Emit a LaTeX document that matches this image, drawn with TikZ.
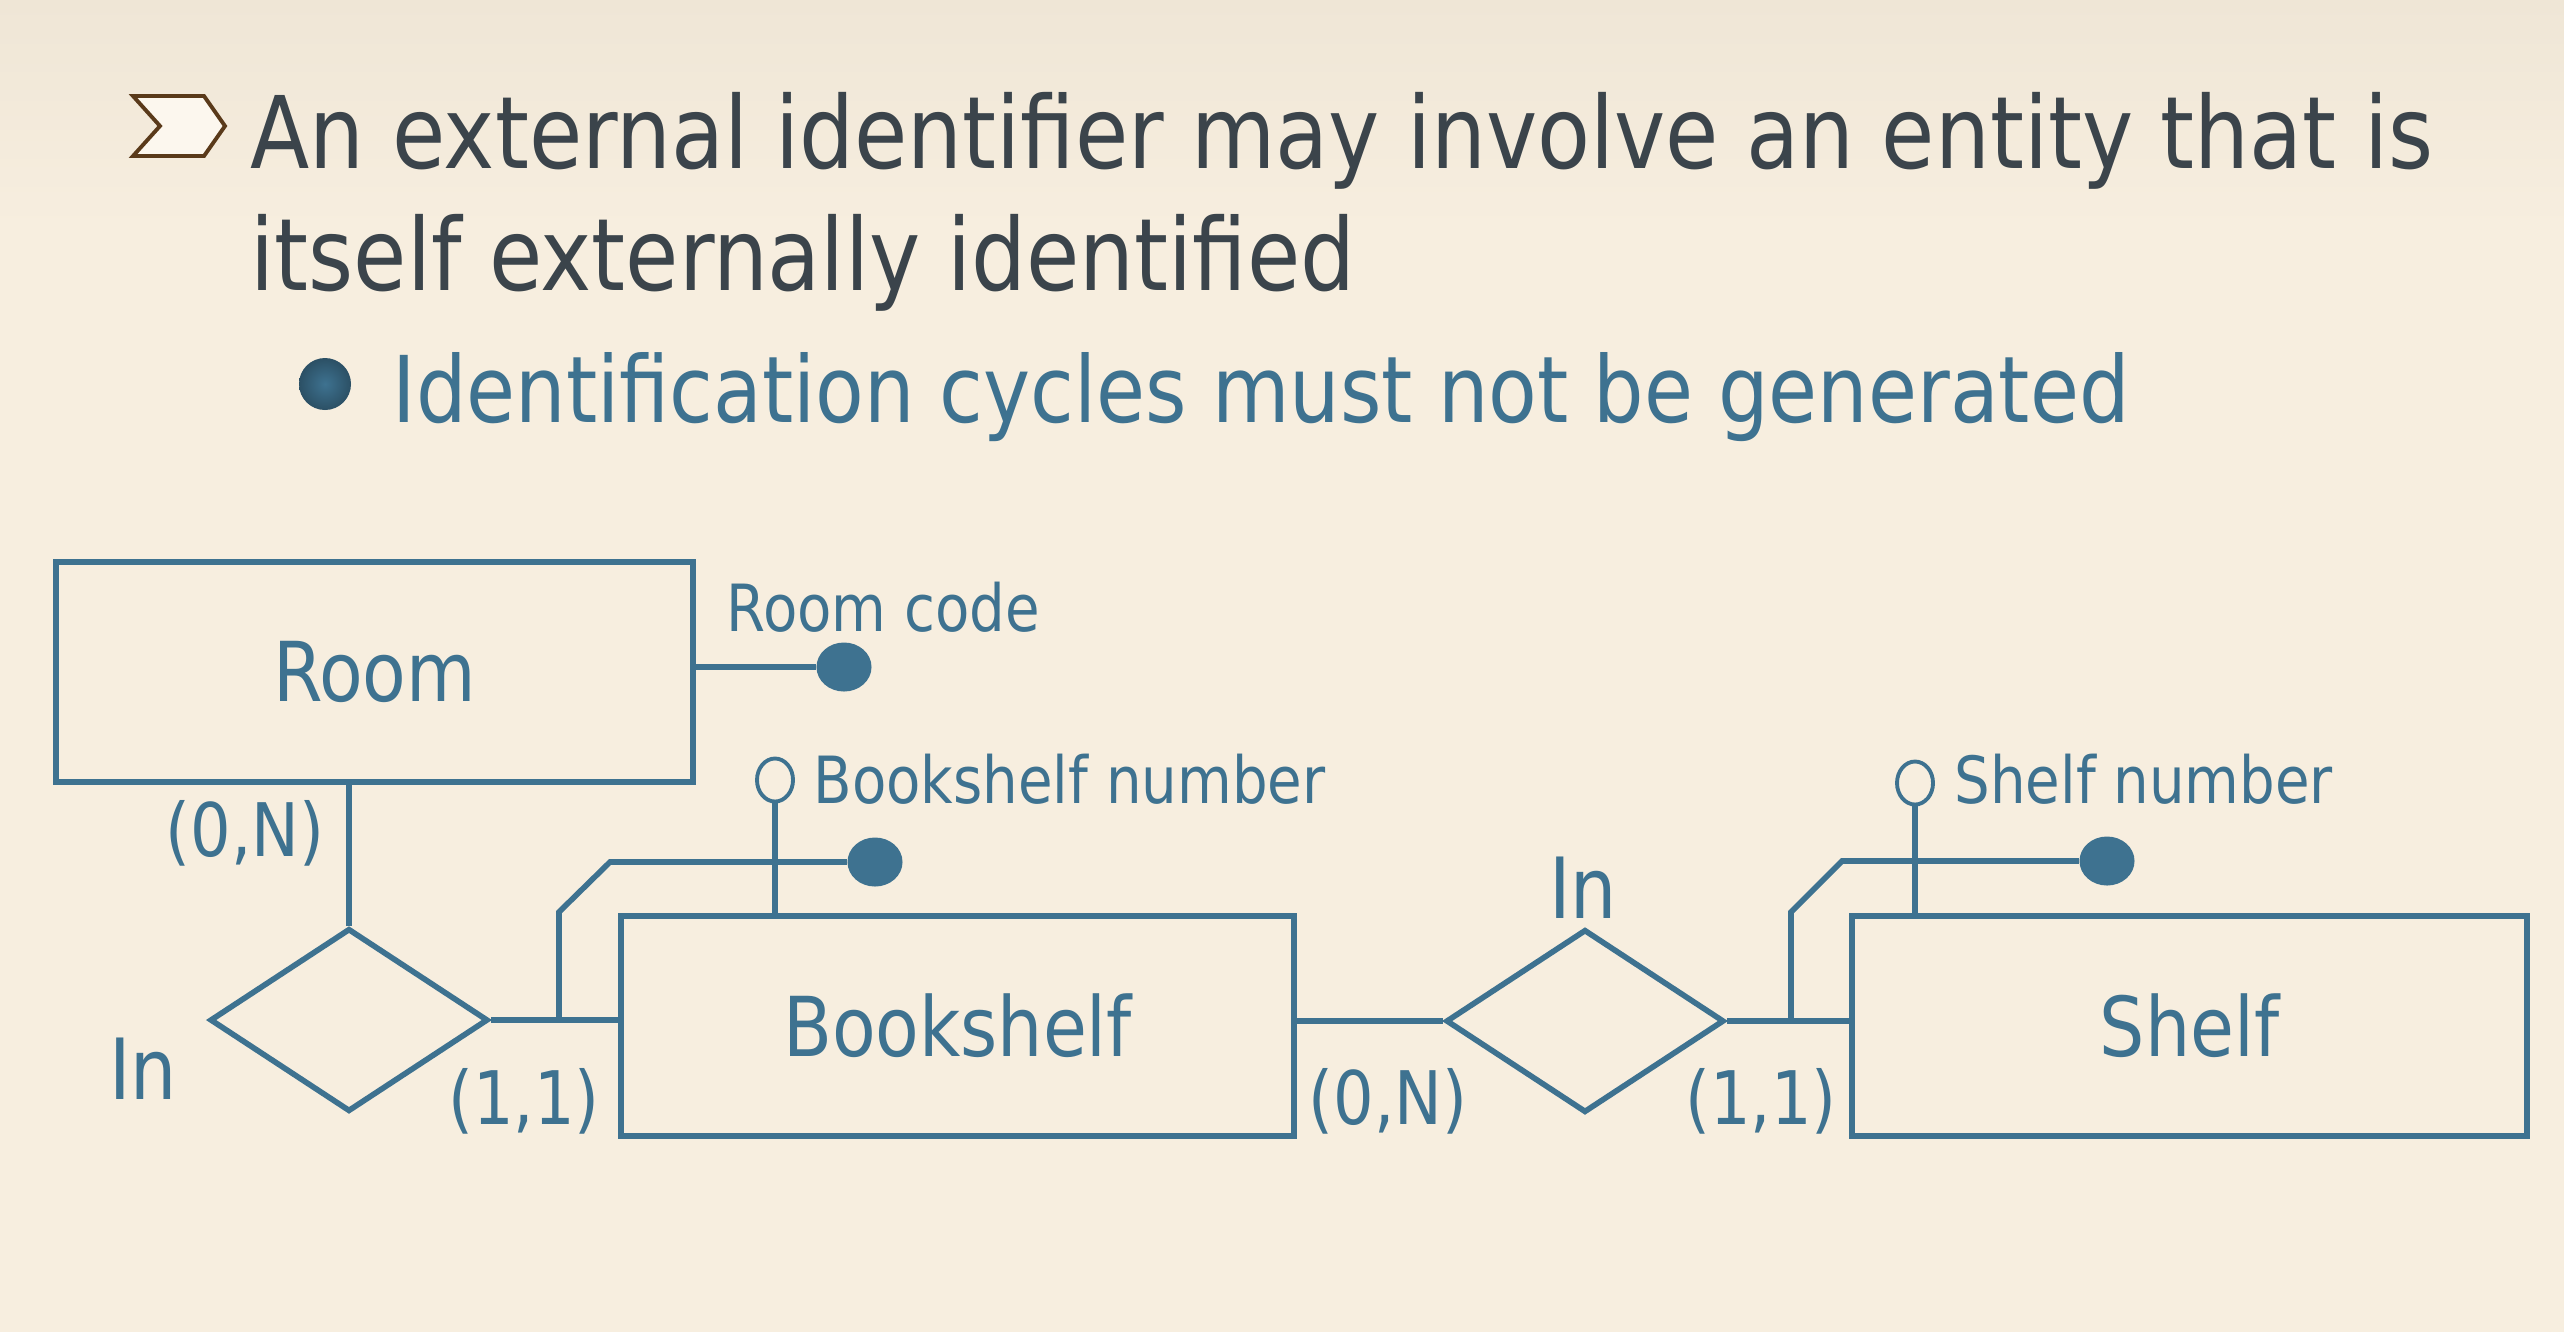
\documentclass[tikz,border=0pt]{standalone}
\usepackage{fontspec}
\setmainfont[FakeStretch=0.96]{DejaVu Sans Condensed}
\usetikzlibrary{shapes.geometric}
\definecolor{erblue}{HTML}{3E7290}
\definecolor{titlegray}{HTML}{3B444B}
\definecolor{paper}{HTML}{F7EEDF}
\definecolor{papertop}{HTML}{EFE6D6}
\definecolor{chevronfill}{HTML}{FCF7EE}
\definecolor{chevronbrown}{HTML}{5A3A1A}

\begin{document}
\begin{tikzpicture}[
		x=0.01cm, y=-0.01cm,
		er/.style={draw=erblue, line width=1.6pt},
		entity/.style={
			er, rectangle,
			inner sep=0pt,
			minimum height=2.2cm,
			text=erblue,
			font=\fontsize{23.5}{28}\selectfont
		},
		relation/.style={er, diamond, inner sep=0pt, minimum width=2.78cm, minimum height=1.83cm},
		idfull/.style={ellipse, fill=erblue, inner sep=0pt, minimum width=0.55cm, minimum height=0.49cm},
		idpart/.style={er, ellipse, line width=1.1pt, inner sep=0pt, minimum width=0.36cm, minimum height=0.43cm},
		card/.style={text=erblue, inner sep=0pt, anchor=base, font=\fontsize{21}{25}\selectfont},
		rolename/.style={card, font=\fontsize{24}{28}\selectfont},
		attr/.style={text=erblue, inner sep=0pt, anchor=base west, font=\fontsize{18.5}{22}\selectfont},
		headline/.style={inner sep=0pt, anchor=base west}
		]
		
		% background
		\useasboundingbox (0,0) rectangle (2564,1332);
		\fill[paper] (0,0) rectangle (2564,1332);
		\shade[top color=papertop, bottom color=paper] (0,0) rectangle (2564,230);
		
		% bullets and text
		\filldraw[fill=chevronfill, draw=chevronbrown, line width=1.1pt]
			(133,96) -- (204,96) -- (225,126) -- (204,156) -- (133,156) -- (160,126) -- cycle;
		\node[headline, text=titlegray, font=\fontsize{28.5}{36}\selectfont] (title1) at (250,168)
			{An external identifier may involve an entity that is};
		\node[headline, text=titlegray, font=\fontsize{28.5}{36}\selectfont] (title2) at (250,290)
			{itself externally identified};
		\shade[inner color=erblue, outer color=erblue!70!black] (325,384) circle (26);
		\node[headline, text=erblue, font=\fontsize{26.2}{32}\selectfont] (subtitle) at (392,422)
			{Identification cycles must not be generated};
		
		% entities and relationships
		\node[entity, minimum width=6.37cm] (room) at (374.5,672) {Room};
		\node[entity, minimum width=6.73cm] (bookshelf) at (957.5,1026) {Bookshelf};
		\node[entity, minimum width=6.75cm] (shelf) at (2189.5,1026) {Shelf};
		\node[relation] (inroom) at (349,1020) {};
		\node[relation] (inshelf) at (1585,1021) {};
		
		\draw[er] (inroom.north |- room.south) -- (inroom.north);
		\draw[er] (inroom.east) -- (inroom.east -| bookshelf.west);
		\draw[er] (bookshelf.east |- inshelf.west) -- (inshelf.west);
		\draw[er] (inshelf.east) -- (inshelf.east -| shelf.west);
		
		% identifiers
		\node[idfull] (roomcode) at (844,667) {};
		\draw[er] (room.east |- roomcode) -- (roomcode);
		\node[attr] (roomcodelbl) at (726,631) {Room code};
		
		\node[idfull] (bsid) at (875,862) {};
		\coordinate (bsknee) at (559,912);
		\coordinate (bsbend) at (610,862);
		\draw[er] (bsknee |- inroom.east) -- (bsknee) -- (bsbend) -- (bsid);
		\node[idpart] (bsnum) at (775,780) {};
		\draw[er] (bsnum.south) -- (bsnum.south |- bookshelf.north);
		\node[attr] (bsnumlbl) at (813,803) {Bookshelf number};
		
		\node[idfull] (shid) at (2107,861) {};
		\coordinate (shknee) at (1791,912);
		\coordinate (shbend) at (1842,861);
		\draw[er] (shknee |- inshelf.east) -- (shknee) -- (shbend) -- (shid);
		\node[idpart] (shnum) at (1915,783) {};
		\draw[er] (shnum.south) -- (shnum.south |- shelf.north);
		\node[attr] (shnumlbl) at (1954,803) {Shelf number};
		
		% cardinalities and names
		\node[card] (cardroom) at (245,856) {(0,N)};
		\node[card] (cardbsin) at (524,1124) {(1,1)};
		\node[card] (cardbsout) at (1388,1124) {(0,N)};
		\node[card] (cardshelf) at (1761,1124) {(1,1)};
		\node[rolename] (inroomlbl) at (143,1099) {In};
		\node[rolename] (inshelflbl) at (1583,918) {In};
	\end{tikzpicture}
\end{document}
